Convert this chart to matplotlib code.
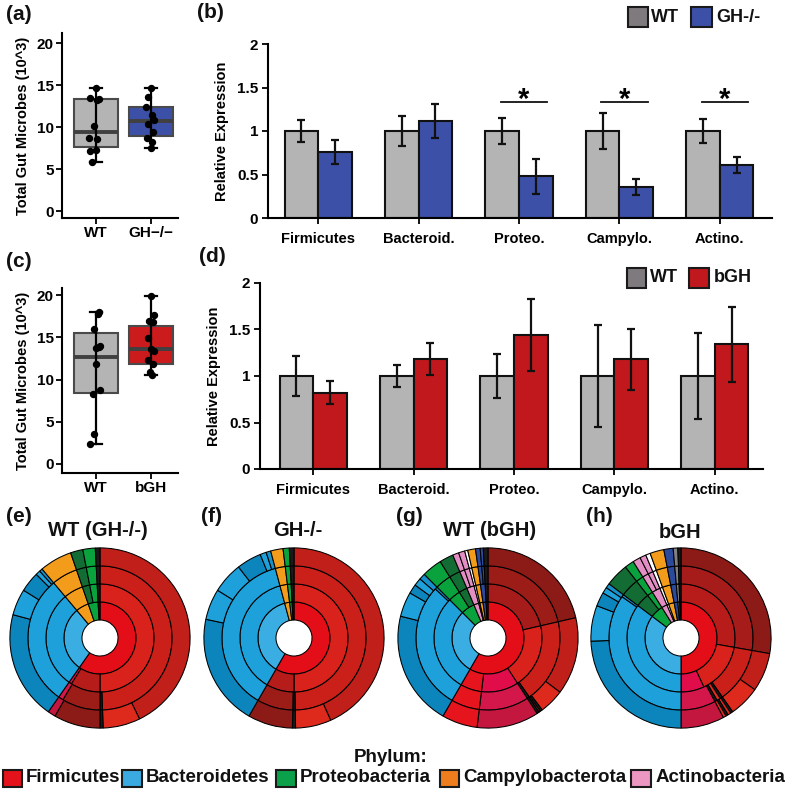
import matplotlib.pyplot as plt
from matplotlib.patches import Rectangle

plt.rcParams['font.family'] = ['Liberation Sans', 'DejaVu Sans']
plt.rcParams['font.weight'] = 'bold'
plt.rcParams['axes.labelweight'] = 'bold'
plt.rcParams['axes.linewidth'] = 1.5

# ---------------- data ----------------
# (a) total gut microbes, WT vs GH-/-
groups_a = ['WT', 'GH\u2212/\u2212']
wt_a = [14.7, 13.5, 13.2, 13.4, 10.1, 8.7, 8.6, 7.2, 7.3, 5.8]
gh_a = [14.7, 13.6, 12.4, 11.4, 10.8, 10.4, 9.4, 8.7, 8.2, 7.5]
wt_a_box = [7.6, 9.4, 13.3]      # q1, median, q3
gh_a_box = [8.9, 10.7, 12.4]
wt_a_jit = [0.0, -0.11, 0.02, 0.05, -0.03, -0.12, 0.02, -0.11, 0.01, -0.08]
gh_a_jit = [0.0, -0.05, -0.08, 0.02, 0.06, -0.04, 0.05, -0.07, 0.03, 0.0]

# (c) total gut microbes, WT vs bGH
groups_c = ['WT', 'bGH']
wt_c = [18.0, 17.8, 16.0, 14.0, 13.9, 13.7, 11.8, 8.8, 8.3, 3.6, 2.4]
bgh_c = [19.9, 17.7, 16.9, 16.8, 14.9, 13.6, 13.4, 12.3, 11.8, 10.9, 10.6]
wt_c_box = [8.4, 12.7, 15.5]
bgh_c_box = [11.8, 13.6, 16.4]
wt_c_jit = [0.06, 0.03, -0.04, 0.07, 0.05, 0.01, 0.01, 0.07, -0.06, -0.03, -0.11]
bgh_c_jit = [0.0, 0.06, -0.03, 0.04, -0.05, 0.0, 0.07, -0.04, 0.05, -0.02, 0.03]

# (b) / (d) relative expression
phyla_short = ['Firmicutes', 'Bacteroid.', 'Proteo.', 'Campylo.', 'Actino.']
wt_b = [1.0, 1.0, 1.0, 1.0, 1.0]
wt_b_err = [0.13, 0.175, 0.155, 0.21, 0.135]
gh_b = [0.76, 1.12, 0.48, 0.355, 0.61]
gh_b_err = [0.14, 0.195, 0.2, 0.09, 0.093]
sig_b = [2, 3, 4]
wt_d = [1.0, 1.0, 1.0, 1.0, 1.0]
wt_d_err = [0.215, 0.113, 0.235, 0.55, 0.46]
bgh_d = [0.82, 1.18, 1.44, 1.18, 1.34]
bgh_d_err = [0.123, 0.17, 0.385, 0.33, 0.40]

# (e)-(h) sunbursts: ring values (degrees of the circle), inner ring = phylum
wt_gh_rings = [
    [215, 105, 21, 16, 3],
    [180, 32, 3, 105, 21, 8, 8, 3],
    [178, 2, 31, 4, 105, 21, 8, 8, 3],
    [154, 24, 2, 30, 5, 70, 17, 13, 3, 2, 21, 8, 8, 3],
]
gh_rings = [
    [210, 135, 8, 4, 3],
    [180, 30, 135, 8, 4, 3],
    [179, 2, 29, 135, 8, 4, 3],
    [156, 23, 2, 29, 72, 20, 20, 16, 4, 3, 8, 4, 3],
]
wt_bgh_rings = [
    [210, 105, 22, 8, 2, 5, 5, 3],
    [77, 70, 40, 23, 105, 13, 9, 8, 2, 5, 5, 3],
    [77, 68, 2, 40, 23, 103, 2, 13, 9, 4, 4, 2, 5, 3, 2, 3],
    [77, 50, 16, 1.5, 1, 1.5, 40, 23, 74, 16, 6, 5, 4, 13, 9, 4, 4, 2, 5, 3, 2, 3],
]
bgh_rings = [
    [180, 127, 21, 9, 3, 9, 6, 3, 2],
    [100, 55, 25, 127, 15, 6, 9, 3, 9, 6, 3, 2],
    [100, 45, 2, 3, 2, 28, 125, 2, 15, 6, 5, 4, 3, 9, 6, 3, 2],
    [100, 25, 20, 1.5, 2, 1.5, 2, 28, 88, 23, 9, 4, 3, 15, 6, 5, 4, 3, 9, 6, 3, 2],
]

legend_phyla = ['Firmicutes', 'Bacteroidetes', 'Proteobacteria', 'Campylobacterota', 'Actinobacteria']

# ---------------- colours ----------------
pal = {
    'F': '#e30e18', 'F2': '#d9221b', 'F3': '#cb201a', 'F4': '#c01f1a', 'Fl': '#de2a1d',
    'Fd2': '#b61c1a', 'Fd3': '#9c1c18', 'Fd4': '#8c1a16', 'Fc2': '#e00d4a', 'Fc3': '#d3174a',
    'Fc4': '#c4173f', 'Fb': '#e6141c', 'Fm2': '#b81c1a', 'Fm3': '#a51c1a',
    'B': '#3aaee2', 'B1': '#1ea1da', 'B2': '#1591cc', 'B3': '#0c85bd',
    'P': '#0aa23c', 'Pd': '#136c33', 'C': '#f39c1b', 'A': '#e38ec4',
    'D': '#2b4a9c', 'G': '#808080', 'W': '#ffffff', 'K': '#1a1a1a',
}
wt_gh_cols = [
    ['F', 'B', 'C', 'P', 'K'],
    ['F2', 'Fd2', 'Fc2', 'B1', 'C', 'Pd', 'P', 'K'],
    ['F3', 'K', 'Fd3', 'Fc3', 'B1', 'C', 'Pd', 'P', 'K'],
    ['F4', 'Fl', 'K', 'Fd4', 'Fc4', 'B3', 'B1', 'B3', 'B1', 'B2', 'C', 'Pd', 'P', 'K'],
]
gh_cols = [
    ['F', 'B', 'C', 'P', 'K'],
    ['F2', 'Fd2', 'B1', 'C', 'P', 'K'],
    ['F3', 'K', 'Fd3', 'B1', 'C', 'P', 'K'],
    ['F4', 'Fl', 'K', 'Fd4', 'B3', 'B1', 'B1', 'B3', 'B1', 'B2', 'C', 'P', 'K'],
]
wt_bgh_cols = [
    ['F', 'B', 'P', 'A', 'W', 'C', 'D', 'K'],
    ['Fm3', 'F2', 'Fc2', 'Fb', 'B1', 'P', 'Pd', 'A', 'W', 'C', 'D', 'K'],
    ['Fd3', 'F3', 'K', 'Fc3', 'Fb', 'B1', 'B2', 'P', 'Pd', 'A', 'A', 'W', 'C', 'D', 'D', 'K'],
    ['Fd4', 'F4', 'Fl', 'K', 'Fl', 'K', 'Fc4', 'Fb', 'B3', 'B1', 'B3', 'B1', 'B2', 'P', 'Pd',
     'A', 'A', 'W', 'C', 'D', 'D', 'K'],
]
bgh_cols = [
    ['F', 'B', 'P', 'A', 'W', 'C', 'D', 'G', 'K'],
    ['Fm2', 'F2', 'Fc2', 'B1', 'Pd', 'P', 'A', 'W', 'C', 'D', 'G', 'K'],
    ['Fm3', 'F3', 'K', 'Fl', 'K', 'Fc3', 'B1', 'B2', 'Pd', 'P', 'A', 'A', 'W', 'C', 'D', 'G', 'K'],
    ['Fd4', 'F4', 'Fl', 'K', 'Fl', 'K', 'Fl', 'Fc4', 'B3', 'B1', 'B3', 'B1', 'B2', 'Pd', 'P',
     'A', 'A', 'W', 'C', 'D', 'G', 'K'],
]
legend_colors = ['#e3121b', '#3aaae0', '#0ba04a', '#ee7d1e', '#ec96c2']

GREY = '#b4b4b4'
BLUE = '#3c50a8'
RED = '#c0181c'

W, H = 787, 795
fig = plt.figure(figsize=(W / 100, H / 100), dpi=100)


def px_axes(left, top, right, bottom):
    return fig.add_axes([left / W, 1 - bottom / H, (right - left) / W, (bottom - top) / H])


def px_text(x, y, s, size, ha='left', va='center'):
    fig.text(x / W, 1 - y / H, s, fontsize=size, fontweight='bold', ha=ha, va=va, color='#111111')


def px_box(x0, y0, x1, y1, color):
    fig.add_artist(Rectangle((x0 / W, 1 - y1 / H), (x1 - x0) / W, (y1 - y0) / H,
                             transform=fig.transFigure, facecolor=color,
                             edgecolor='#1a1a1a', linewidth=1.5))


def box_panel(ax, groups, pts_list, box_list, jit_list, fills, ylim):
    stats = []
    for g, pts, b in zip(groups, pts_list, box_list):
        stats.append(dict(label=g, q1=b[0], med=b[1], q3=b[2], whislo=min(pts), whishi=max(pts)))
    pos = [1, 2]
    bp = ax.bxp(stats, positions=pos, widths=0.8, patch_artist=True, showfliers=False,
                boxprops=dict(edgecolor='#4a4a4a', linewidth=1.5),
                medianprops=dict(color='#404040', linewidth=2.8),
                whiskerprops=dict(color='black', linewidth=1.6),
                capprops=dict(color='black', linewidth=1.6), capwidths=0.22)
    for patch, fc in zip(bp['boxes'], fills):
        patch.set_facecolor(fc)
    for p, b in zip(pos, box_list):
        ax.vlines(p, b[0], b[2], color='black', linewidth=1.6, zorder=3)
    for p, pts, jit in zip(pos, pts_list, jit_list):
        ax.plot([p + j for j in jit], pts, 'o', color='black', markersize=4.3, zorder=4)
    ax.set_xlim(0.38, 2.5)
    ax.set_ylim(*ylim)
    ax.set_yticks([0, 5, 10, 15, 20])
    ax.set_xticks(pos)
    ax.set_xticklabels(groups)
    for s in ['top', 'right']:
        ax.spines[s].set_visible(False)
    ax.tick_params(axis='both', direction='out', length=4, width=1.3, labelsize=11, pad=2)
    ax.set_ylabel('Total Gut Microbes (10^3)', fontsize=10.5, labelpad=5)


def bar_panel(ax, wt, wt_err, other, other_err, color):
    x = list(range(len(phyla_short)))
    w = 0.335
    xl = [i - w / 2 for i in x]
    xr = [i + w / 2 for i in x]
    ax.bar(xl, wt, w, color=GREY, edgecolor='#111111', linewidth=1.5, zorder=2)
    ax.bar(xr, other, w, color=color, edgecolor='#111111', linewidth=1.5, zorder=2)
    ax.errorbar(xl, wt, yerr=wt_err, fmt='none', ecolor='#111111', elinewidth=1.6,
                capsize=3, capthick=1.6, zorder=3)
    ax.errorbar(xr, other, yerr=other_err, fmt='none', ecolor='#111111', elinewidth=1.6,
                capsize=3, capthick=1.6, zorder=3)
    ax.set_ylim(0, 2)
    ax.set_yticks([0, 0.5, 1, 1.5, 2])
    ax.set_yticklabels(['0', '0.5', '1', '1.5', '2'])
    ax.set_xticks(x)
    ax.set_xticklabels(phyla_short)
    for s in ['top', 'right']:
        ax.spines[s].set_visible(False)
    ax.tick_params(axis='y', direction='out', length=4, width=1.3, labelsize=11, pad=3)
    ax.tick_params(axis='x', direction='out', length=4, width=1.3, labelsize=10.5, pad=6)
    ax.set_ylabel('Relative Expression', fontsize=10.5, labelpad=6)


def sunburst(cx, cy, rings, cols, r=91):
    ax = fig.add_axes([(cx - r) / W, 1 - (cy + r) / H, 2 * r / W, 2 * r / H])
    for k, (vals, ck) in enumerate(zip(rings, cols)):
        ax.pie(vals, radius=0.4 + 0.2 * k, colors=[pal[c] for c in ck], startangle=90,
               counterclock=False,
               wedgeprops=dict(width=0.2, edgecolor='black', linewidth=0.75))
    ax.set_xlim(-1.01, 1.01)
    ax.set_ylim(-1.01, 1.01)
    ax.axis('off')


# ---------------- panel (a) ----------------
ax_a = px_axes(62, 33, 178, 218)
box_panel(ax_a, groups_a, [wt_a, gh_a], [wt_a_box, gh_a_box], [wt_a_jit, gh_a_jit],
          [GREY, BLUE], (-0.83, 21.2))

# ---------------- panel (c) ----------------
ax_c = px_axes(62, 288, 178, 473)
box_panel(ax_c, groups_c, [wt_c, bgh_c], [wt_c_box, bgh_c_box], [wt_c_jit, bgh_c_jit],
          [GREY, '#cc1b1d'], (-1.07, 20.85))

# ---------------- panel (b) ----------------
ax_b = px_axes(268, 44, 772, 218)
bar_panel(ax_b, wt_b, wt_b_err, gh_b, gh_b_err, BLUE)
ax_b.set_xlim(-0.5, 4.52)
for i in sig_b:
    ax_b.plot([i - 0.18, i + 0.28], [1.33, 1.33], color='#111111', linewidth=1.3)
    ax_b.text(i + 0.05, 1.26, '*', ha='center', va='baseline', fontsize=21, fontweight='bold')

# ---------------- panel (d) ----------------
ax_d = px_axes(260, 283, 763, 469)
bar_panel(ax_d, wt_d, wt_d_err, bgh_d, bgh_d_err, RED)
ax_d.set_xlim(-0.53, 4.48)

# legends for bar panels
px_box(628, 7, 648, 27, '#7f7a7d')
px_text(651, 17, 'WT', 13)
px_box(691, 7, 712, 27, BLUE)
px_text(716, 17, 'GH-/-', 13)
px_box(627, 268, 646, 288, '#7f7a7d')
px_text(650, 278, 'WT', 13)
px_box(689, 268, 709, 288, RED)
px_text(714, 278, 'bGH', 13)

# ---------------- sunbursts ----------------
sunburst(100, 638, wt_gh_rings, wt_gh_cols)
sunburst(294, 638, gh_rings, gh_cols)
sunburst(488, 638, wt_bgh_rings, wt_bgh_cols)
sunburst(681, 638, bgh_rings, bgh_cols)

px_text(98, 530, 'WT (GH-/-)', 14.5, ha='center')
px_text(298, 530, 'GH-/-', 14.5, ha='center')
px_text(490, 531, 'WT (bGH)', 14.5, ha='center')
px_text(680, 532, 'bGH', 14.5, ha='center')

# panel letters
px_text(6, 15, '(a)', 15)
px_text(197, 13, '(b)', 15)
px_text(6, 262, '(c)', 15)
px_text(199, 256, '(d)', 15)
px_text(6, 516, '(e)', 15)
px_text(201, 516, '(f)', 15)
px_text(396, 516, '(g)', 15)
px_text(586, 516, '(h)', 15)

# phylum legend
px_text(391, 757, 'Phylum:', 13.5, ha='center')
legend_x = [(3, 22, 26), (122, 142, 146), (276, 296, 300), (440, 459, 463), (631, 651, 656)]
for (x0, x1, xt), name, c in zip(legend_x, legend_phyla, legend_colors):
    px_box(x0, 770, x1, 787, c)
    px_text(xt, 778, name, 13.5)

fig.savefig('out.png', dpi=100, facecolor='white')
